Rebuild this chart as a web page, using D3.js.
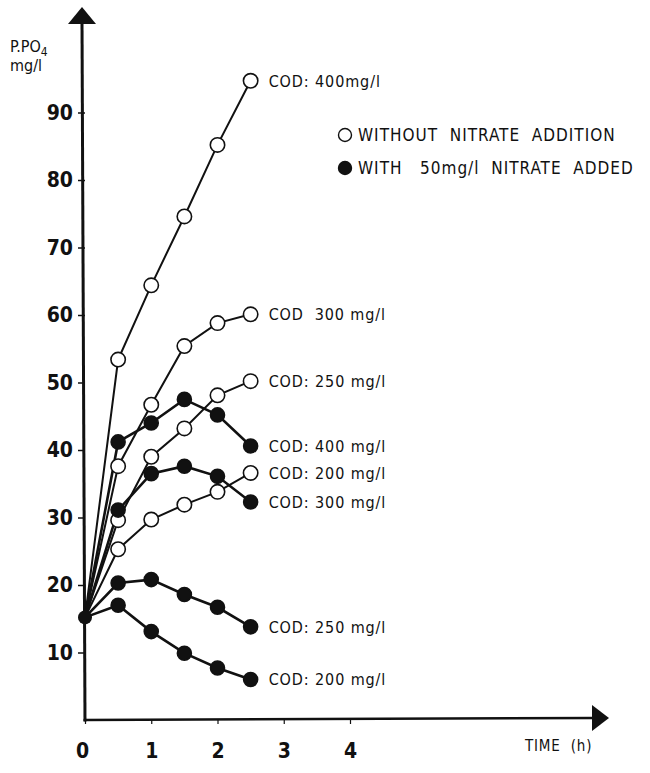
<!DOCTYPE html>
<html>
<head>
<meta charset="utf-8">
<script src="https://cdn.jsdelivr.net/npm/d3@7"></script>
<style>
  body { margin: 0; background: #fff; }
  svg text { fill: #111; }
</style>
</head>
<body>
<div id="graph"></div>
<script>
// time points (h)
const times = [0, 0.5, 1, 1.5, 2, 2.5];

// without nitrate addition (open circles)
const open400 = [15.2, 53.4, 64.4, 74.6, 85.2, 94.7];
const open300 = [15.2, 37.6, 46.7, 55.4, 58.8, 60.1];
const open250 = [15.2, 29.6, 39.0, 43.2, 48.1, 50.2];
const open200 = [15.2, 25.3, 29.7, 31.9, 33.8, 36.6];

// with 50 mg/l nitrate added (filled circles)
const fill400 = [15.2, 41.2, 44.0, 47.5, 45.2, 40.6];
const fill300 = [15.2, 31.1, 36.5, 37.6, 36.1, 32.3];
const fill250 = [15.2, 20.3, 20.8, 18.6, 16.7, 13.8];
const fill200 = [15.2, 17.0, 13.1, 9.9, 7.7, 6.0];

const seriesLabels = ["COD: 400mg/l", "COD  300 mg/l", "COD: 250 mg/l", "COD: 200 mg/l",
                      "COD: 400 mg/l", "COD: 300 mg/l", "COD: 250 mg/l", "COD: 200 mg/l"];

const yTicks = [10, 20, 30, 40, 50, 60, 70, 80, 90];
const xTicks = [0, 1, 2, 3, 4];
const legendLabels = ["WITHOUT  NITRATE  ADDITION", "WITH   50mg/l  NITRATE  ADDED"];

const width = 650;
const height = 773;

const series = [
  { values: open400, filled: false },
  { values: open300, filled: false },
  { values: open250, filled: false },
  { values: open200, filled: false },
  { values: fill400, filled: true },
  { values: fill300, filled: true },
  { values: fill250, filled: true },
  { values: fill200, filled: true }
];
series.forEach((s, i) => s.label = seriesLabels[i]);

const svg = d3.select("#graph")
  .append("svg")
  .attr("width", width)
  .attr("height", height);

const x = d3.scaleLinear().domain([0, 4]).range([85, 350]);
const y = d3.scaleLinear().domain([0, 100]).range([720, 45]);

const labelFont = "'DejaVu Sans Condensed', 'DejaVu Sans', sans-serif";

// y axis
const yAxis = d3.axisLeft(y).tickValues(yTicks).tickSize(7).tickFormat(d3.format("d"));
const gy = svg.append("g")
  .attr("transform", "translate(" + x(0) + ",0)")
  .call(yAxis);
gy.select(".domain").remove();
gy.selectAll(".tick line").attr("stroke", "#111").attr("stroke-width", 1.5);
gy.selectAll(".tick text")
  .attr("x", -12)
  .style("font-family", labelFont)
  .style("font-weight", "bold")
  .style("font-size", "21px")
  .attr("fill", "#111");

// x axis
const xAxis = d3.axisBottom(x).tickValues(xTicks).tickSize(4).tickFormat(d3.format("d"));
const gx = svg.append("g")
  .attr("transform", "translate(0," + y(0) + ")")
  .call(xAxis);
gx.select(".domain").remove();
gx.selectAll(".tick line").attr("stroke", "#111").attr("stroke-width", 1.2);
gx.selectAll(".tick text")
  .attr("y", 23)
  .style("font-family", labelFont)
  .style("font-weight", "bold")
  .style("font-size", "21px")
  .attr("fill", "#111");
gx.selectAll(".tick").filter(d => d === 0).select("text").attr("dx", -3);

// axis lines with arrow heads
svg.append("line")
  .attr("x1", x(0)).attr("y1", y(0) + 1.5)
  .attr("x2", x(0) - 3).attr("y2", 22)
  .attr("stroke", "#111").attr("stroke-width", 3);
svg.append("path")
  .attr("d", "M" + (x(0) - 17) + ",24 L" + (x(0) - 3) + ",7 L" + (x(0) + 11) + ",24 Z")
  .attr("fill", "#111");

svg.append("line")
  .attr("x1", x(0) - 1.5).attr("y1", y(0))
  .attr("x2", 596).attr("y2", y(0) - 2)
  .attr("stroke", "#111").attr("stroke-width", 2.5);
svg.append("path")
  .attr("d", "M592," + (y(0) - 15) + " L609," + (y(0) - 2) + " L592," + (y(0) + 11) + " Z")
  .attr("fill", "#111");

// axis titles
const yt = svg.append("text")
  .attr("x", 10).attr("y", 52)
  .style("font-family", labelFont)
  .style("font-size", "16px");
yt.append("tspan").text("P.PO");
yt.append("tspan").attr("dy", 4).style("font-size", "12px").text("4");
svg.append("text")
  .attr("x", 10).attr("y", 71)
  .style("font-family", labelFont)
  .style("font-size", "16px")
  .text("mg/l");

svg.append("text")
  .attr("x", 525).attr("y", 751)
  .style("font-family", labelFont)
  .style("font-size", "15px")
  .style("letter-spacing", "0.8px")
  .attr("xml:space", "preserve")
  .text("TIME  (h)");

// lines
const line = d3.line()
  .x((d, i) => x(times[i]))
  .y(d => y(d));

svg.append("g")
  .selectAll("path")
  .data(series)
  .enter()
  .append("path")
  .attr("d", d => line(d.values))
  .attr("fill", "none")
  .attr("stroke", "#111")
  .attr("stroke-width", d => d.filled ? 2.6 : 2);

// markers
series.forEach(s => {
  svg.append("g")
    .selectAll("circle")
    .data(s.values.slice(1))
    .enter()
    .append("circle")
    .attr("cx", (d, i) => x(times[i + 1]))
    .attr("cy", d => y(d))
    .attr("r", s.filled ? 7 : 7.2)
    .attr("fill", s.filled ? "#111" : "#fff")
    .attr("stroke", "#111")
    .attr("stroke-width", 1.6);
});

// common start point
svg.append("circle")
  .attr("cx", x(times[0]))
  .attr("cy", y(open400[0]))
  .attr("r", 7)
  .attr("fill", "#111");

// series labels
svg.append("g")
  .selectAll("text")
  .data(series)
  .enter()
  .append("text")
  .attr("x", d => x(times[times.length - 1]) + 18)
  .attr("y", d => y(d.values[d.values.length - 1]))
  .attr("dy", "0.36em")
  .attr("xml:space", "preserve")
  .style("font-family", labelFont)
  .style("font-size", "16px")
  .style("letter-spacing", "0.9px")
  .text(d => d.label);

// legend
const legend = svg.append("g");
legendLabels.forEach((t, i) => {
  legend.append("circle")
    .attr("cx", 345)
    .attr("cy", 135 + i * 33)
    .attr("r", 6.5)
    .attr("fill", i === 0 ? "#fff" : "#111")
    .attr("stroke", "#111")
    .attr("stroke-width", 1.4);
  legend.append("text")
    .attr("x", 358)
    .attr("y", 135 + i * 33)
    .attr("dy", "0.36em")
    .style("font-family", labelFont)
    .style("font-size", "17px")
    .style("letter-spacing", "1px")
    .attr("xml:space", "preserve")
    .text(t);
});
</script>
</body>
</html>
